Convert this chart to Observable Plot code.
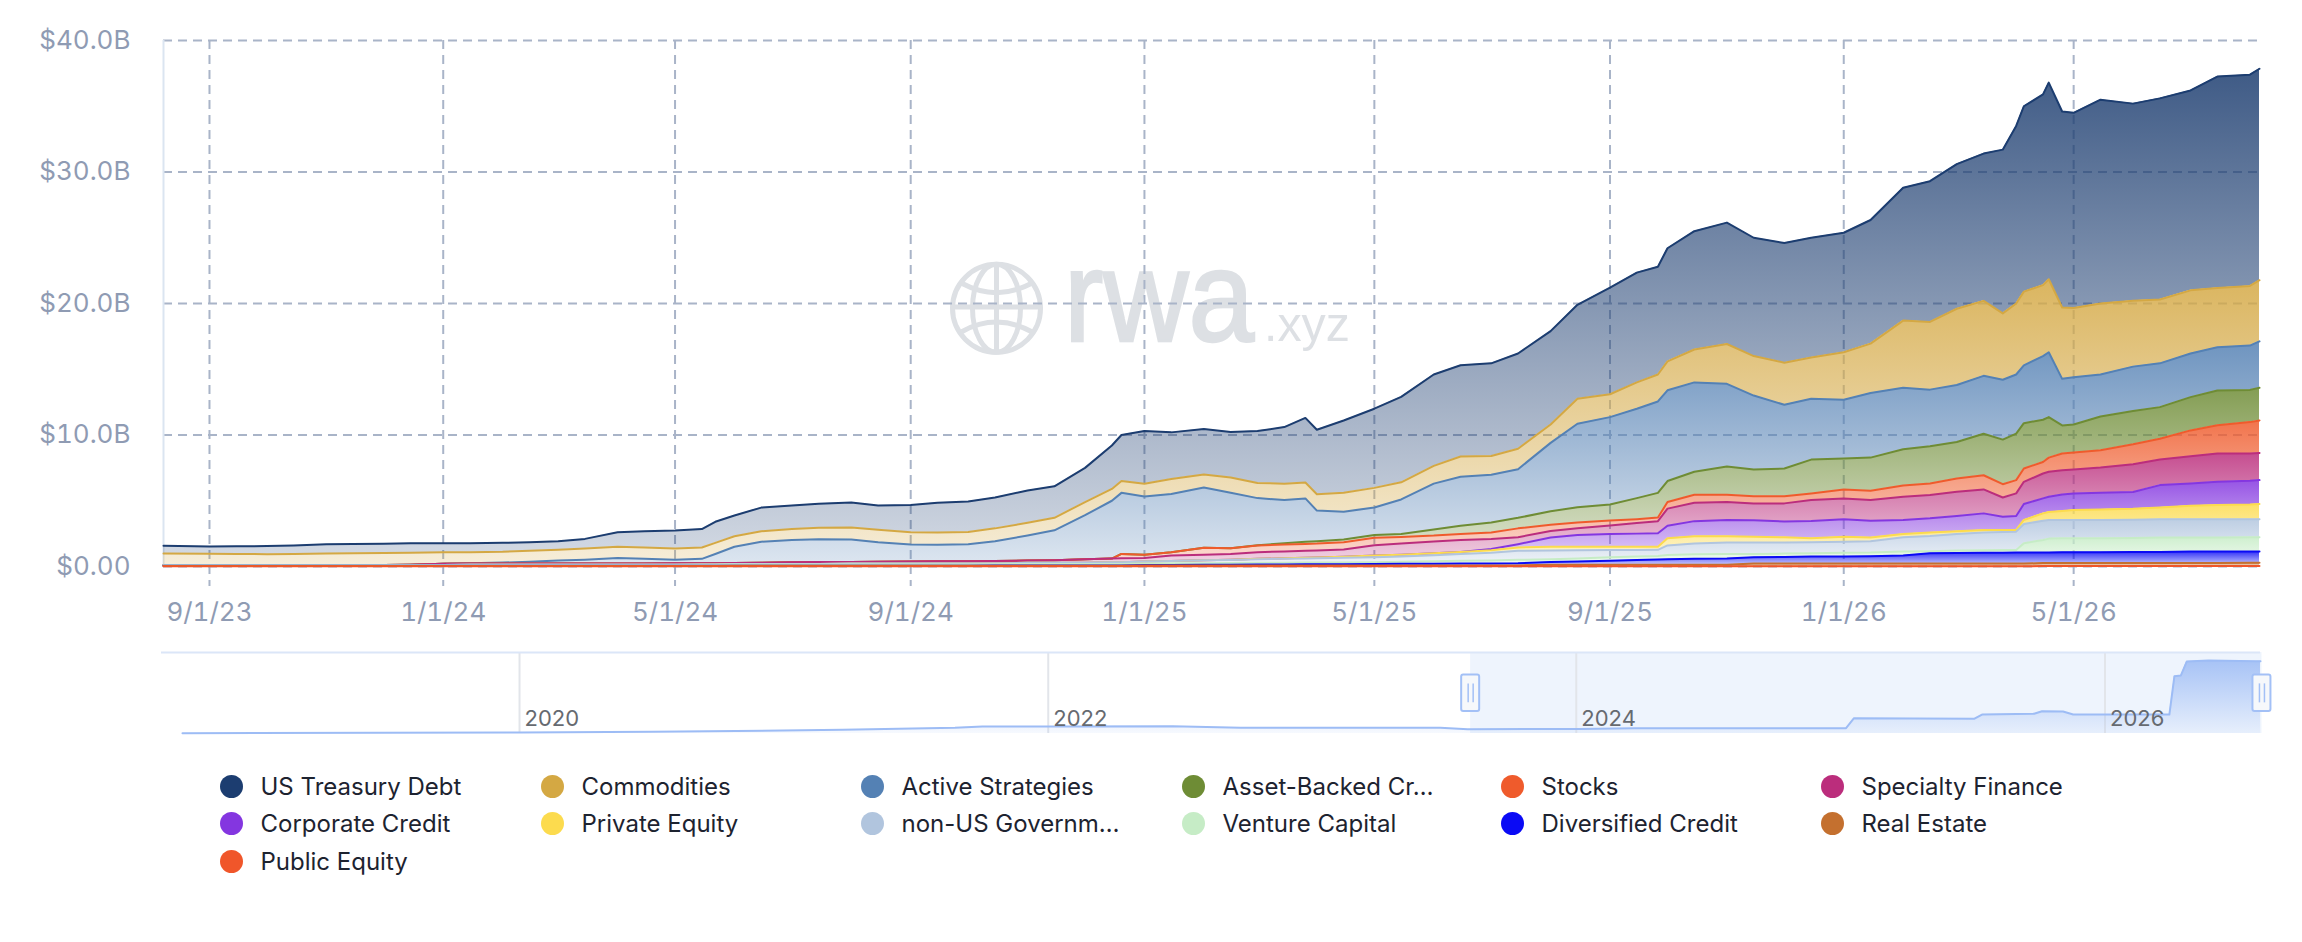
<!DOCTYPE html>
<html>
<head>
<meta charset="utf-8">
<script src="https://cdn.jsdelivr.net/npm/d3@7"></script>
<script src="https://cdn.jsdelivr.net/npm/@observablehq/plot@0.6"></script>
<style>
  html, body { margin: 0; padding: 0; background: #fff; }
  #wrap { position: relative; width: 2302px; height: 942px; overflow: hidden; font-family: Inter, "Noto Sans", sans-serif; }
  #wm { position: absolute; left: 0; top: 0; }
  #main { position: absolute; left: 0; top: 0; }
  #nav { position: absolute; left: 0; top: 640px; }
  .item { position: absolute; height: 30px; display: flex; align-items: center; font-size: 24px; color: #1d2330; white-space: nowrap; }
  .dot { width: 23px; height: 23px; border-radius: 50%; margin-right: 18px; flex: none; }
</style>
</head>
<body>
<div id="wrap">
  <svg id="wm" width="2302" height="640">
    <defs id="defs"></defs>
    <g fill="none" stroke="#dde0e4" stroke-width="5">
      <circle cx="996.5" cy="308.3" r="44"/>
      <ellipse cx="996.5" cy="308.3" rx="24" ry="44"/>
      <line x1="996.5" y1="264.3" x2="996.5" y2="352.3"/>
      <line x1="952.5" y1="307" x2="1040.5" y2="307"/>
      <path d="M961.7,283.3 Q996.5,302 1031.7,283.3"/>
      <path d="M961.7,331.7 Q996.5,312.5 1031.7,331.7"/>
    </g>
    <text id="wmRwa" x="0" y="0" font-size="129" fill="#dde0e4" stroke="#dde0e4" stroke-width="2.5" font-family="Liberation Sans, Arial, sans-serif">rwa</text>
    <text id="wmXyz" x="0" y="0" font-size="49" fill="#dde0e4" font-family="Liberation Sans, Arial, sans-serif">.xyz</text>
  </svg>
  <div id="main"></div>
  <div id="nav"></div>
  <div id="legend"></div>
</div>
<script>
// ---------------- DATA ----------------
const dates = [
"2023-08-08","2023-09-01","2023-09-15","2023-10-01","2023-10-15","2023-11-01","2023-11-15","2023-12-01","2023-12-15",
"2024-01-01","2024-01-15","2024-02-01","2024-02-15","2024-03-01","2024-03-15","2024-04-01","2024-04-15","2024-05-01","2024-05-15","2024-05-22",
"2024-06-01","2024-06-15","2024-07-01","2024-07-15","2024-08-01","2024-08-15","2024-09-01","2024-09-15","2024-10-01","2024-10-15",
"2024-11-01","2024-11-15","2024-12-01","2024-12-15","2024-12-20",
"2025-01-01","2025-01-15","2025-02-01","2025-02-15","2025-03-01","2025-03-15","2025-03-26","2025-04-01","2025-04-15","2025-05-01","2025-05-15",
"2025-06-01","2025-06-15","2025-07-01","2025-07-15","2025-08-01","2025-08-15","2025-09-01","2025-09-15","2025-09-26","2025-10-01","2025-10-15",
"2025-11-01","2025-11-15","2025-12-01","2025-12-15",
"2026-01-01","2026-01-15","2026-02-01","2026-02-15","2026-03-01","2026-03-15","2026-03-25","2026-04-01","2026-04-05","2026-04-15","2026-04-18","2026-04-25",
"2026-05-01","2026-05-15","2026-06-01","2026-06-15","2026-07-01","2026-07-15","2026-08-01","2026-08-06"];

// values in $B
const usTreasury = [
.58,.56,.58,.61,.65,.72,.72,.71,.71,
.69,.68,.68,.65,.64,.74,1.1,1.23,1.36,1.4,1.6,
1.58,1.8,1.79,1.83,1.9,1.84,2.08,2.26,2.33,2.35,
2.46,2.4,2.6,3.3,3.5,
4.0,3.54,3.45,3.46,3.95,4.3,4.91,4.9,5.5,6.02,6.5,
6.95,6.94,7.05,7.25,7.1,7.15,8.1,8.35,8.2,8.6,9.0,
9.23,9.0,9.1,9.1,
9.09,9.4,10.1,10.7,11.0,11.2,12.45,13.5,14.1,14.5,14.96,14.9,
14.85,15.5,15.0,15.3,15.2,16.09,16.06,16.08];
const commodities = [
.87,.85,.84,.82,.83,.86,.88,.9,.91,
.88,.84,.82,.84,.83,.84,.86,.87,.86,.87,.85,
.8,.8,.83,.87,.9,.95,.92,.92,.92,.98,
.96,.95,1.0,.9,.9,
.98,1.14,1.0,1.16,1.15,1.25,1.21,1.25,1.43,1.49,1.3,
1.35,1.54,1.42,1.55,1.4,1.89,1.74,2.0,2.05,2.2,2.5,
3.03,3.0,3.2,3.15,
3.61,3.75,5.11,5.15,5.8,5.7,5.05,5.4,5.6,5.4,5.55,5.43,
5.26,5.4,5.0,4.85,4.8,4.49,4.54,4.65];
const activeStrategies = [
0,0,0,0,0,0,0,0,0,
0,.02,.08,.14,.23,.3,.42,.36,.27,.33,.7,
1.23,1.59,1.7,1.74,1.71,1.49,1.3,1.27,1.3,1.5,
1.91,2.27,3.35,4.4,4.64,
4.42,4.43,4.58,4.23,3.58,3.29,3.3,2.33,2.12,2.09,2.62,
3.48,3.72,3.63,3.7,5.2,6.36,6.65,6.8,6.95,6.9,6.8,
6.29,5.63,4.85,4.62,
4.47,4.92,4.68,4.31,4.33,4.4,4.55,4.5,4.4,4.84,4.93,3.54,
3.59,3.19,3.38,3.33,3.32,3.29,3.37,3.53];
const assetBackedCredit = [
0,0,0,0,0,0,0,0,0,
0,0,0,0,0,0,0,0,0,0,0,
0,0,0,0,0,0,0,0,0,0,
0,0,0,0,0,
0,0,0,0,.03,.08,.16,.18,.2,.22,.23,
.47,.62,.77,.8,1.02,1.15,1.22,1.6,1.88,1.6,1.75,
2.15,2.02,2.1,2.57,
2.35,2.52,2.75,2.83,2.78,3.16,3.39,3.53,3.45,3.21,3.08,2.14,
2.14,2.57,2.53,2.4,2.53,2.65,2.45,2.48];
const stocks = [
0,0,0,0,0,0,0,0,0,
0,0,0,0,0,0,0,0,0,0,0,
0,0,0,0,0,0,0,0,0,0,
0,0,0,0,.34,
.26,.25,.52,.43,.5,.53,.52,.52,.55,.56,.5,
.45,.46,.48,.67,.48,.45,.38,.3,.27,.5,.6,
.55,.55,.55,.51,
.68,.71,.86,.88,1.01,1.08,1.01,1.01,1.01,.88,1.08,1.27,
1.29,1.31,1.51,1.59,1.97,2.14,2.39,2.47];
const specialtyFinance = [
0,0,0,0,0,0,0,0,.02,
.08,.09,.09,.09,.09,.09,.09,.09,.11,.09,.09,
.08,.1,.13,.15,.13,.14,.16,.17,.18,.19,
.16,.19,.26,.28,.3,
.26,.43,.43,.43,.51,.53,.54,.54,.55,.79,.85,
.9,.91,.77,.53,.5,.5,.63,.8,.92,1.3,1.4,
1.36,1.29,1.37,1.59,
1.59,1.57,1.76,1.77,1.84,1.82,1.46,1.72,1.69,1.89,1.9,1.84,
1.81,1.92,2.12,1.94,2.07,2.15,2.07,2.07];
const corporateCredit = [
0,0,0,0,0,0,0,0,0,
0,0,0,0,0,0,0,0,0,0,0,
0,0,0,0,0,0,0,0,0,0,
0,0,0,0,0,
0,0,0,0,0,0,0,0,0,0,0,
0,0,.1,.25,.7,.89,.98,1.0,1.03,.95,1.15,
1.24,1.24,1.21,1.31,
1.32,1.28,1.07,1.08,1.16,1.26,1.01,1.06,1.21,1.14,1.16,1.26,
1.27,1.27,1.27,1.7,1.69,1.77,1.8,1.82];
const privateEquity = [
0,0,0,0,0,0,0,0,0,
0,0,0,0,0,0,0,0,0,0,0,
0,0,0,0,0,0,0,0,0,0,
0,0,0,0,0,
0,0,0,.02,.03,.04,.05,.05,.08,.12,.14,
.15,.16,.18,.25,.28,.28,.25,.24,.23,.55,.55,
.48,.45,.4,.31,
.38,.28,.25,.26,.21,.2,.15,.13,.31,.56,.6,.68,
.75,.8,.83,.9,1.03,1.08,1.13,1.16];
const nonUSGovernmentDebt = [
0,0,0,0,0,0,0,0,0,
0,0,0,0,0,0,0,0,0,.03,.03,
.03,.03,.03,.03,.06,.06,.06,.06,.06,.06,
.1,.1,.1,.13,.13,
.16,.17,.22,.23,.27,.29,.31,.33,.36,.38,.4,
.45,.52,.6,.69,.66,.63,.55,.5,.47,.72,.82,
.86,.86,.84,.83,
.85,.86,1.08,1.16,1.26,1.34,1.37,1.39,1.46,1.46,1.42,1.39,
1.39,1.39,1.39,1.39,1.39,1.39,1.37,1.37];
const ventureCapital = [
.07,.07,.07,.07,.07,.07,.07,.07,.07,
.07,.08,.08,.08,.08,.08,.08,.08,.08,.08,.08,
.1,.1,.1,.1,.1,.1,.1,.1,.1,.1,
.12,.12,.12,.12,.12,
.11,.12,.12,.13,.13,.13,.13,.13,.13,.14,.16,
.19,.21,.22,.26,.22,.22,.26,.26,.26,.32,.34,
.36,.25,.25,.25,
.28,.28,.3,.15,.19,.2,.21,.2,.7,.95,1.05,1.07,
1.07,1.06,1.07,1.09,1.06,1.07,1.08,1.08];
const diversifiedCredit = [
.01,.01,.01,.01,.01,.01,.01,.01,.01,
.01,.01,.01,.01,.01,.01,.01,.01,.01,.01,.01,
.01,.01,.01,.01,.01,.01,.01,.01,.01,.02,
.02,.02,.02,.02,.02,
.04,.05,.06,.07,.08,.08,.09,.09,.1,.11,.12,
.13,.14,.15,.17,.2,.24,.3,.36,.4,.42,.45,
.46,.49,.51,.54,
.54,.56,.62,.79,.8,.82,.83,.84,.85,.81,.81,.82,
.82,.83,.84,.85,.88,.88,.85,.85];
const realEstate = [
.03,.03,.03,.03,.03,.03,.03,.03,.03,
.03,.03,.03,.03,.03,.03,.03,.03,.03,.03,.03,
.04,.04,.04,.04,.04,.04,.04,.04,.04,.04,
.04,.04,.04,.04,.04,
.06,.06,.06,.06,.06,.06,.06,.06,.06,.06,.06,
.06,.06,.06,.06,.12,.12,.12,.12,.12,.12,.12,
.12,.2,.2,.2,
.2,.2,.2,.2,.2,.2,.2,.2,.2,.23,.23,.23,
.23,.23,.23,.23,.23,.23,.26,.26];
const publicEquity = [
.01,.01,.01,.01,.01,.01,.01,.01,.01,
.01,.01,.01,.01,.01,.01,.01,.01,.01,.01,.01,
.01,.01,.01,.01,.01,.01,.01,.01,.01,.01,
.01,.01,.01,.01,.01,
.01,.01,.01,.01,.01,.02,.02,.02,.02,.02,.02,
.02,.02,.02,.02,.02,.02,.02,.02,.02,.02,.02,
.02,.02,.02,.02,
.02,.02,.02,.02,.02,.02,.02,.02,.02,.03,.03,.03,
.03,.03,.03,.03,.03,.03,.03,.03];

const seriesNames = ["US Treasury Debt","Commodities","Active Strategies","Asset-Backed Credit","Stocks","Specialty Finance","Corporate Credit","Private Equity","non-US Government Debt","Venture Capital","Diversified Credit","Real Estate","Public Equity"];
const legendLabels = ["US Treasury Debt","Commodities","Active Strategies","Asset-Backed Cr…","Stocks","Specialty Finance","Corporate Credit","Private Equity","non-US Governm…","Venture Capital","Diversified Credit","Real Estate","Public Equity"];
const seriesColors = ["#1c3d70","#d4a843","#5481b4","#6e8c35","#ef5b2c","#bb2d7c","#8436e0","#fcdb4e","#b1c5de","#c6ecc6","#0a0af5","#c4702f","#f0562a"];
const seriesValues = [usTreasury, commodities, activeStrategies, assetBackedCredit, stocks, specialtyFinance, corporateCredit, privateEquity, nonUSGovernmentDebt, ventureCapital, diversifiedCredit, realEstate, publicEquity];

const xTickLabels = ["2023-09-01","2024-01-01","2024-05-01","2024-09-01","2025-01-01","2025-05-01","2025-09-01","2026-01-01","2026-05-01"];
const yTicks = [0, 10, 20, 30, 40];
const xDomain = ["2023-08-08", "2026-08-06"];

// navigator (overview) series, relative units
const navDates = ["2018-09-22","2020-01-01","2020-07-03","2021-03-23","2021-08-25","2021-10-02","2022-01-07","2022-06-22","2022-09-24","2023-06-27","2023-08-04","2024-01-06","2024-03-21","2025-01-08","2025-01-19","2025-07-04","2025-07-15","2025-09-25","2025-10-06","2025-11-04","2025-11-18","2026-03-31","2026-04-07","2026-04-16","2026-04-24","2026-05-24","2026-07-28","2026-08-04"];
const navValues = [0.004,0.014,0.023,0.051,0.078,0.096,0.096,0.100,0.078,0.078,0.059,0.062,0.073,0.073,0.210,0.201,0.260,0.270,0.305,0.301,0.260,0.260,0.785,0.795,0.986,1.000,0.990,0.990];
const navDomain = ["2018-08-24", "2026-08-04"];
const navYears = ["2020-01-01","2022-01-01","2024-01-01","2026-01-01"];

// ---------------- BUILD ----------------
const parse = d3.utcParse("%Y-%m-%d");

// watermark text fitting
function fitText(id, x, baseline, targetWidth) {
  const el = document.getElementById(id);
  const w = el.getComputedTextLength() || el.getBBox().width;
  const k = w > 0 ? targetWidth / w : 1;
  el.setAttribute("transform", `translate(${x},${baseline}) scale(${k},1)`);
}
fitText("wmRwa", 1064, 340.7, 190);
fitText("wmXyz", 1264, 340.7, 86);

// gradients
const defs = d3.select("#defs");
seriesColors.forEach((c, i) => {
  const g = defs.append("linearGradient").attr("id", "grad" + i).attr("x1", 0).attr("y1", 0).attr("x2", 0).attr("y2", 1);
  g.append("stop").attr("offset", 0).attr("stop-color", c).attr("stop-opacity", 0.85);
  g.append("stop").attr("offset", 1).attr("stop-color", c).attr("stop-opacity", 0.2);
});
{
  const g = defs.append("linearGradient").attr("id", "navGrad").attr("x1", 0).attr("y1", 0).attr("x2", 0).attr("y2", 1);
  g.append("stop").attr("offset", 0).attr("stop-color", "#8fb2f3").attr("stop-opacity", 0.75);
  g.append("stop").attr("offset", 1).attr("stop-color", "#8fb2f3").attr("stop-opacity", 0.08);
}

const rows = [];
seriesNames.forEach((s, i) => {
  seriesValues[i].forEach((v, j) => {
    rows.push({date: parse(dates[j]), series: s, value: v, grad: `url(#grad${i})`, color: seriesColors[i]});
  });
});
const order = seriesNames.slice().reverse();
const gridColor = "#a9b4c8";
const fmtDate = d => `${d.getUTCMonth() + 1}/${d.getUTCDate()}/${String(d.getUTCFullYear()).slice(2)}`;
const fmtY = d => d === 0 ? "$0.00" : `$${d.toFixed(1)}B`;
const xTicks = xTickLabels.map(parse);

const main = Plot.plot({
  width: 2302,
  height: 640,
  marginLeft: 163,
  marginRight: 43,
  marginTop: 40,
  marginBottom: 74,
  x: {type: "utc", domain: xDomain.map(parse)},
  y: {domain: [0, 40]},
  color: {type: "identity"},
  style: {background: "transparent", fontFamily: "Inter, sans-serif", fontSize: "26px", color: "#8f9bb3"},
  marks: [
    Plot.ruleY(yTicks, {stroke: gridColor, strokeWidth: 2, strokeDasharray: "9,6"}),
    Plot.ruleX(xTicks, {stroke: gridColor, strokeWidth: 2, strokeDasharray: "9,6", insetBottom: -20}),
    Plot.ruleX([parse(xDomain[0])], {stroke: "#dbe5f1", strokeWidth: 2}),
    Plot.areaY(rows, Plot.stackY({x: "date", y: "value", z: "series", fill: "grad", order})),
    Plot.lineY(rows, Plot.stackY2({x: "date", y: "value", z: "series", stroke: "color", order, strokeWidth: 2})),
    Plot.axisY({ticks: yTicks, tickFormat: fmtY, tickSize: 0, tickPadding: 33, fontSize: 26, label: null}),
    Plot.axisX({ticks: xTicks, tickFormat: fmtDate, tickSize: 0, tickPadding: 36, fontSize: 26, label: null})
  ]
});
document.getElementById("main").appendChild(main);

const navRows = navDates.map((d, i) => ({date: parse(d), value: navValues[i]}));
const navTop = 1.11;
const selection = [{start: parse(xDomain[0]), end: parse(xDomain[1])}];
const handles = [parse(xDomain[0]), parse(xDomain[1])];
const years = navYears.map(parse);

const nav = Plot.plot({
  width: 2302,
  height: 100,
  marginLeft: 161,
  marginRight: 42,
  marginTop: 12,
  marginBottom: 7,
  x: {type: "utc", domain: navDomain.map(parse), axis: null},
  y: {domain: [0, navTop], axis: null},
  style: {background: "transparent", fontFamily: "Inter, sans-serif", fontSize: "22px"},
  marks: [
    Plot.rect(selection, {x1: "start", x2: "end", y1: 0, y2: navTop, fill: "#eef4fd"}),
    Plot.ruleX(years, {stroke: "#e2e5ea", strokeWidth: 2}),
    Plot.areaY(navRows, {x: "date", y: "value", fill: "url(#navGrad)"}),
    Plot.lineY(navRows, {x: "date", y: "value", stroke: "#9dbcf5", strokeWidth: 2}),
    Plot.ruleY([navTop], {stroke: "#dbe6f8", strokeWidth: 2}),
    Plot.text(years, {x: d => d, y: 0.2, text: d => String(d.getUTCFullYear()), textAnchor: "start", dx: 5, fill: "#666a70", fontSize: 22}),
    Plot.rect(handles, {x1: d => d, x2: d => d, y1: 0.30, y2: 0.80, insetLeft: -9, insetRight: -9, fill: "#f6f8fb", stroke: "#a3c0f6", strokeWidth: 2, rx: 2}),
    Plot.ruleX(handles, {y1: 0.42, y2: 0.68, dx: -2.5, stroke: "#a3c0f6", strokeWidth: 1.5}),
    Plot.ruleX(handles, {y1: 0.42, y2: 0.68, dx: 2.5, stroke: "#a3c0f6", strokeWidth: 1.5})
  ]
});
document.getElementById("nav").appendChild(nav);

// legend
const colX = [231, 552, 872, 1193, 1512, 1832];
const rowY = [786, 823, 861];
const legend = document.getElementById("legend");
legendLabels.forEach((label, i) => {
  const cx = colX[i % 6], cy = rowY[Math.floor(i / 6)];
  const item = document.createElement("div");
  item.className = "item";
  item.style.left = (cx - 11.5) + "px";
  item.style.top = (cy - 15) + "px";
  const dot = document.createElement("span");
  dot.className = "dot";
  dot.style.background = seriesColors[i];
  const txt = document.createElement("span");
  txt.textContent = label;
  item.appendChild(dot);
  item.appendChild(txt);
  legend.appendChild(item);
});
</script>
</body>
</html>
